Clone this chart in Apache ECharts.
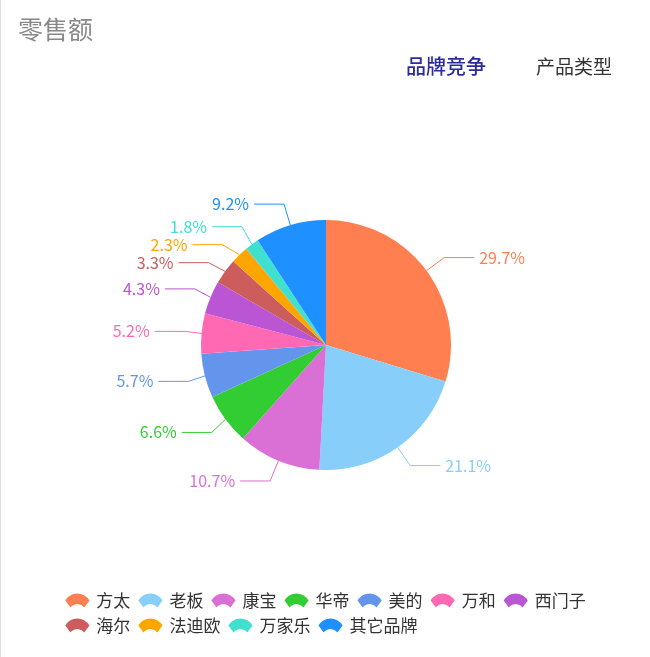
<!DOCTYPE html>
<html><head><meta charset="utf-8">
<script src="https://cdn.jsdelivr.net/npm/echarts@6/dist/echarts.min.js"></script>
<style>html,body{margin:0;padding:0;background:#fff}#c{width:650px;height:657px;border-left:1px solid #ddd;box-sizing:border-box}</style>
</head><body><div id="c"></div>
<script>
const categories=['方太','老板','康宝','华帝','美的','万和','西门子','海尔','法迪欧','万家乐','其它品牌'];
const values=[29.7,21.1,10.7,6.6,5.7,5.2,4.3,3.3,2.3,1.8,9.2];
const colors=['#FF7F50','#87CEFA','#DA70D6','#32CD32','#6495ED','#FF69B4','#BA55D3','#CD5C5C','#FFA500','#40E0D0','#1E90FF'];
const font='"Noto Sans CJK SC","Noto Sans",sans-serif';
const chart=echarts.init(document.getElementById('c'));
chart.setOption({
  color:colors,
  title:{text:'零售额',left:12,top:12,textStyle:{color:'#888',fontSize:25,fontWeight:'normal',fontFamily:font}},
  graphic:[
    {type:'text',left:405,top:56,style:{text:'品牌竞争',fill:'#2b2b9c',font:'500 20px '+font}},
    {type:'text',left:535,top:57,style:{text:'产品类型',fill:'#333',font:'19px '+font}}
  ],
  legend:{bottom:18,left:'center',width:570,itemWidth:28,itemHeight:14,itemGap:8,
    icon:'path://M0,8 A16,16 0 0 1 28,8 L22,16 A10,10 0 0 0 6,16 Z',
    textStyle:{fontSize:17,color:'#333',fontFamily:font}},
  series:[{type:'pie',center:[325,345],radius:[0,125],startAngle:90,
    label:{formatter:'{c}%',fontSize:16,fontFamily:font,color:'inherit'},
    labelLine:{length:22,length2:30},
    data:categories.map((n,i)=>({name:n,value:values[i],label:{color:colors[i]}}))}]
});
</script></body></html>
